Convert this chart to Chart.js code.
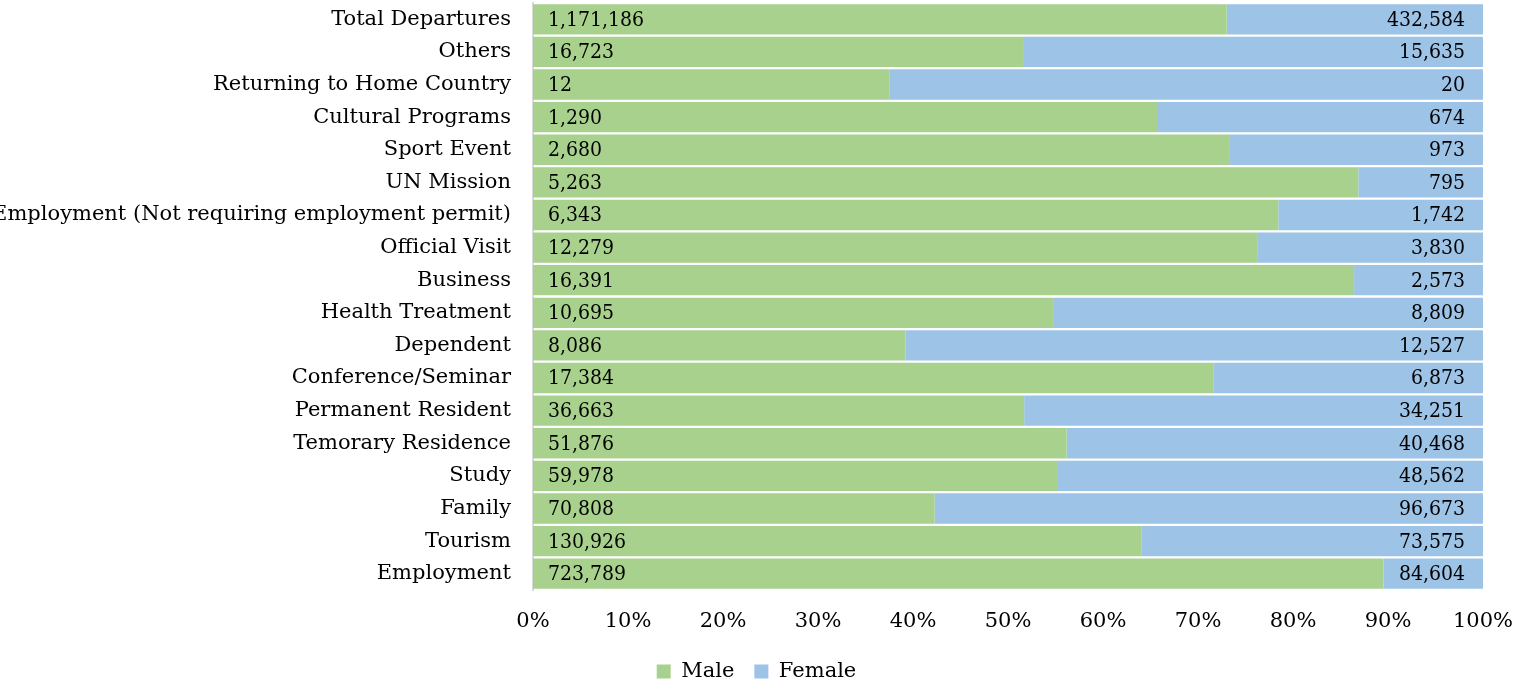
<!DOCTYPE html>
<html>
<head>
<meta charset="utf-8">
<script src="https://cdn.jsdelivr.net/npm/chart.js@4/dist/chart.umd.min.js"></script>
<style>
  html, body { margin: 0; padding: 0; background: #fff; }
  #wrap { width: 1513px; height: 683px; position: relative; }
</style>
</head>
<body>
<div id="wrap"><canvas id="c"></canvas></div>
<script>
// Departures by purpose of travel, split by gender
const categories = [
  "Total Departures", "Others", "Returning to Home Country", "Cultural Programs",
  "Sport Event", "UN Mission", "Employment (Not requiring employment permit)",
  "Official Visit", "Business", "Health Treatment", "Dependent",
  "Conference/Seminar", "Permanent Resident", "Temorary Residence", "Study",
  "Family", "Tourism", "Employment"
];
const maleCounts = [
  1171186, 16723, 12, 1290, 2680, 5263, 6343, 12279, 16391, 10695, 8086,
  17384, 36663, 51876, 59978, 70808, 130926, 723789
];
const femaleCounts = [
  432584, 15635, 20, 674, 973, 795, 1742, 3830, 2573, 8809, 12527,
  6873, 34251, 40468, 48562, 96673, 73575, 84604
];
const xTickLabels = ["0%", "10%", "20%", "30%", "40%", "50%", "60%", "70%", "80%", "90%", "100%"];

const FONT = "DejaVu Serif";
const NUM_FONT = "'DejaVu Serif Condensed', 'DejaVu Serif', serif";
const totals = maleCounts.map((m, i) => m + femaleCounts[i]);
const malePct = maleCounts.map((m, i) => m / totals[i] * 100);
const femalePct = femaleCounts.map((f, i) => f / totals[i] * 100);

// Writes the raw count inside each segment: male at the start, female at the end
const countLabels = {
  id: 'countLabels',
  afterDatasetsDraw(chart) {
    const ctx = chart.ctx;
    ctx.save();
    ctx.font = "21px " + NUM_FONT;
    ctx.fillStyle = '#000';
    ctx.textBaseline = 'middle';
    const counts = [maleCounts, femaleCounts];
    chart.data.datasets.forEach((ds, di) => {
      const meta = chart.getDatasetMeta(di);
      meta.data.forEach((bar, i) => {
        const txt = counts[di][i].toLocaleString('en-US');
        const left = Math.min(bar.x, bar.base);
        const right = Math.max(bar.x, bar.base);
        if (di === 0) {
          ctx.textAlign = 'left';
          ctx.fillText(txt, left + 15, bar.y + 1);
        } else {
          ctx.textAlign = 'right';
          ctx.fillText(txt, right - 18, bar.y + 1);
        }
      });
    });
    ctx.restore();
  }
};

new Chart(document.getElementById('c'), {
  type: 'bar',
  data: {
    labels: categories,
    datasets: [
      { label: 'Male', data: malePct, backgroundColor: '#A9D18E', borderWidth: 0 },
      { label: 'Female', data: femalePct, backgroundColor: '#9DC3E6', borderWidth: 0 }
    ]
  },
  options: {
    indexAxis: 'y',
    responsive: true,
    maintainAspectRatio: false,
    animation: false,
    layout: { padding: { top: 3, right: 0, bottom: -9, left: 0 } },
    scales: {
      x: {
        stacked: true,
        min: 0,
        max: 100,
        ticks: {
          stepSize: 10,
          padding: 19,
          color: '#000',
          font: { family: FONT, size: 21 },
          callback: (v, i) => xTickLabels[i]
        },
        grid: { display: false, drawTicks: false },
        border: { display: false },
        afterFit(scale) {
          scale.height = 51;
          scale.paddingLeft = 0;
          scale.paddingRight = 30;
        }
      },
      y: {
        stacked: true,
        ticks: {
          padding: 3,
          color: '#000',
          autoSkip: false,
          font: { family: FONT, size: 21 }
        },
        grid: { display: false, drawTicks: true, tickLength: 19 },
        border: { display: true, color: '#d9d9d9', width: 2 },
        afterFit(scale) {
          scale.width = 533;
          scale.paddingTop = 0;
          scale.paddingBottom = 0;
        }
      }
    },
    datasets: {
      bar: { barPercentage: 0.93, categoryPercentage: 1.0 }
    },
    plugins: {
      legend: {
        position: 'bottom',
        labels: {
          boxWidth: 14,
          boxHeight: 14,
          padding: 20,
          color: '#000',
          font: { family: FONT, size: 21 }
        }
      },
      tooltip: { enabled: false }
    }
  },
  plugins: [countLabels]
});
</script>
</body>
</html>
